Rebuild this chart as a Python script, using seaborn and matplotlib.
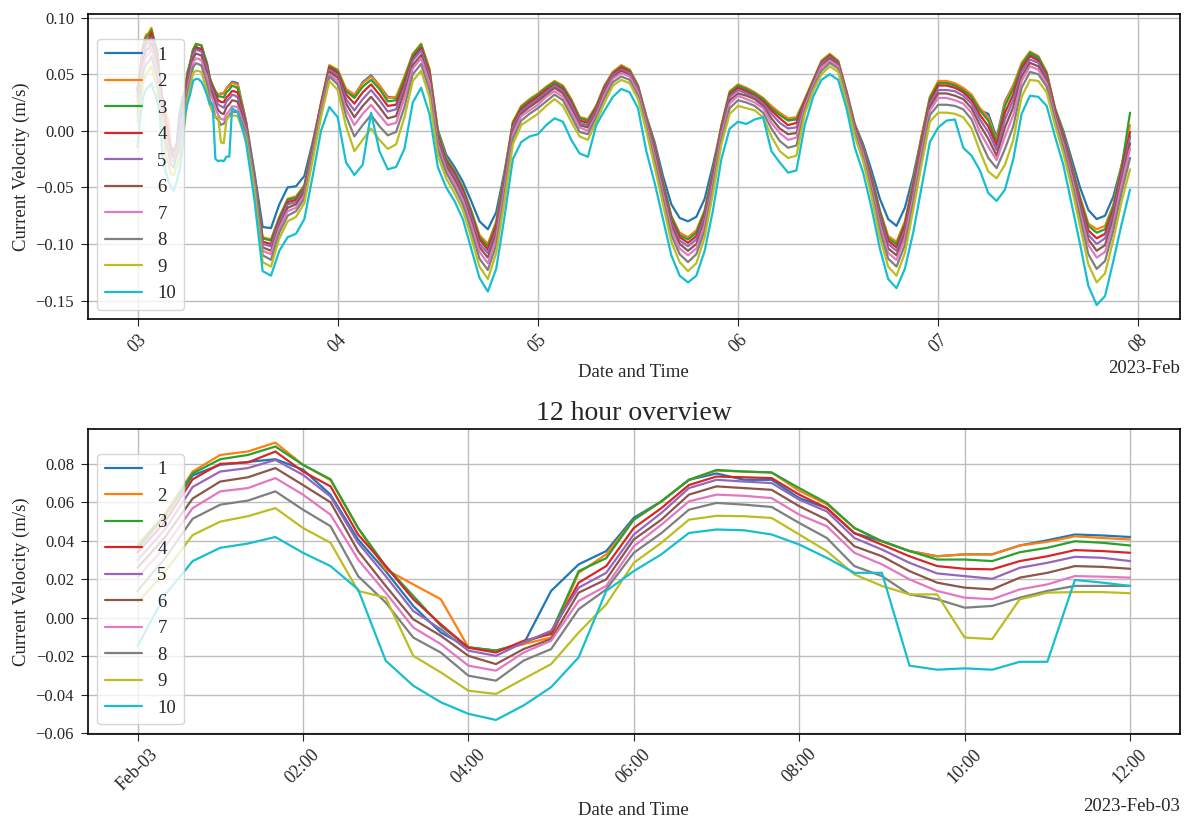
import numpy as np
import pandas as pd
import matplotlib
matplotlib.use("Agg")
import matplotlib.pyplot as plt
import matplotlib.dates as mdates
import seaborn as sns

layers = [str(i) for i in range(1, 11)]

# ---- first 12 hours, 20-minute steps (mm/s) ----
ov_s1 = [36, 53, 74, 79.5, 81, 82.4, 77, 64, 40.7, 24.3, 6.2, -7.6, -15.3, -17, -13.6, 14, 27.8, 34.7, 52, 60.5, 71.7, 75, 71.7, 71.7, 62.2, 57, 44, 39.8, 34.7, 32, 33, 33, 37.6, 40.3, 43.3, 42.8, 42]
ov_s2 = [38, 54, 76, 84.6, 86.4, 91, 79.5, 71.5, 46.7, 25.2, 17.4, 9.7, -15.3, -17, -13.6, -10.2, 23.4, 33, 51, 60.5, 71.7, 76.5, 76, 75.5, 66, 59, 46.7, 39.8, 34.7, 32, 33, 33, 37.6, 39.5, 42.4, 41.5, 40.7]
ov_s3 = [37, 53, 75, 82.4, 84.6, 89, 79.5, 72, 46.7, 26.9, 11.4, -4.1, -15.3, -17, -12.8, -7.6, 24.3, 31, 51, 60.5, 71.7, 76.8, 76, 75.5, 67.4, 59.7, 46.7, 39.8, 34.7, 30.3, 30.3, 29.5, 34.1, 36.4, 39.8, 39, 37.6]
ov_s4 = [34, 50, 72, 80, 80.7, 86.4, 76, 68.3, 43.3, 26.9, 9.7, -3.3, -15.5, -18, -11.9, -8.4, 18.3, 26.9, 46.7, 57, 69, 73.4, 73, 72.6, 64, 57, 44, 38, 32, 26.9, 25.5, 25.2, 29.5, 32, 35.2, 34.7, 33.8]
ov_s5 = [30, 46, 68, 76, 77.8, 82, 74.3, 63, 39, 21.7, 3.6, -5.9, -17, -19.7, -12.8, -6.7, 15.7, 23.4, 43.3, 54.5, 67.4, 71.7, 70.8, 70, 61.4, 55.3, 41.5, 35.5, 28.6, 23.1, 21.7, 20.3, 26, 28.6, 31.7, 31.2, 29.5]
ov_s6 = [26, 42, 62, 70.8, 73, 77.8, 69, 60, 34.7, 16.6, -0.7, -9.3, -19.7, -24, -16.2, -11, 13.1, 20, 40.7, 51, 64, 68.3, 67.4, 66.5, 58, 51, 37.2, 32, 24.3, 18.3, 15.7, 14.8, 20.9, 23.4, 26.9, 26.5, 25.5]
ov_s7 = [21, 37, 57, 65.7, 67.4, 72.6, 64, 53.6, 30.3, 13.1, -5, -13.6, -24.8, -27.4, -18, -11.9, 8.8, 16.6, 37.2, 48.4, 60.5, 64, 63.4, 62.2, 53.6, 47.6, 33.8, 27.8, 20, 14, 10.5, 9.7, 14.8, 17.4, 21.7, 21.4, 20.9]
ov_s8 = [14, 31, 51.5, 58.8, 60.9, 65.7, 56.2, 47.6, 21.7, 8, -10.2, -18, -30, -32.6, -22.2, -16.2, 4.5, 14.8, 33.8, 44, 56.2, 59.7, 58.8, 57.6, 49.3, 41.5, 26.9, 21.7, 12.2, 9.7, 5.3, 6.2, 10.5, 14, 16.6, 16.6, 16.6]
ov_s9 = [8, 24, 43, 50, 52.8, 57, 46.7, 39, 14, 10.5, -19.7, -28.3, -37.8, -39.5, -31.7, -24, -7.6, 7, 28.6, 39, 51, 53, 52.8, 51.9, 43.3, 34.7, 22.6, 16.6, 12.2, 12.2, -10.2, -11, 9.7, 13.1, 13.4, 13.4, 12.8]
ov_s10 = [-14.6, 12, 29.5, 36.4, 38.6, 42, 33.8, 26.9, 14.8, -22.2, -35.2, -43.8, -49.8, -53, -45.5, -36, -20.5, 14, 24.3, 33, 44.1, 45.9, 45.5, 43.3, 38.1, 31.2, 23.4, 23.4, -24.8, -26.9, -26.2, -26.9, -22.8, -22.8, 19.7, 18.3, 16.6]

# ---- remaining record, hourly from Feb-03 13:00 to Feb-07 23:00 (mm/s) ----
hr_s1 = [9, -36, -85, -86, -65, -50, -49, -40, -10, 23,
         56, 52, 36, 31, 43, 49, 40, 30, 29, 46,
         66, 74, 53, 1, -21, -32, -45, -62, -80, -87,
         -72, -36, 6, 21, 27, 32, 38, 43, 39, 27,
         12, 10, 22, 40, 52, 57, 54, 40, 13, -10,
         -40, -65, -77, -80, -76, -60, -30, 3, 33, 40,
         37, 33, 28, 21, 15, 10, 11, 27, 44, 61,
         67, 61, 35, 6, -12, -35, -60, -78, -84, -68,
         -40, -5, 28, 42, 43, 41, 36, 30, 18, 15,
         -6, 26, 40, 58, 68, 64, 50, 20, 0, -25,
         -50, -70, -78, -75, -58, -30, -5]
hr_s2 = [8, -40, -94, -96, -76, -60, -58, -48, -12, 25,
         58, 54, 37, 32, 42, 48, 40, 29, 30, 48,
         68, 77, 55, 0, -24, -35, -50, -70, -92, -100,
         -80, -38, 8, 22, 28, 33, 39, 44, 40, 28,
         12, 10, 22, 40, 52, 58, 54, 40, 12, -12,
         -45, -75, -90, -94, -88, -70, -35, 5, 35, 41,
         38, 34, 29, 22, 16, 11, 12, 28, 45, 62,
         68, 62, 35, 5, -15, -40, -70, -93, -98, -80,
         -45, -5, 30, 44, 44, 42, 38, 32, 20, 12,
         -8, 25, 40, 60, 70, 66, 52, 20, -2, -30,
         -58, -82, -87, -84, -65, -30, 5]
hr_s3 = [7, -41, -95, -97, -77, -61, -59, -49, -13, 24,
         57, 53, 35, 29, 39, 45, 37, 26, 27, 46,
         67, 76, 53, -1, -25, -36, -51, -71, -94, -102,
         -82, -39, 7, 21, 27, 32, 38, 43, 39, 27,
         11, 9, 21, 39, 51, 57, 53, 39, 11, -13,
         -46, -76, -92, -96, -90, -71, -36, 4, 34, 40,
         37, 33, 28, 20, 14, 9, 10, 27, 44, 61,
         67, 61, 34, 4, -16, -41, -71, -95, -100, -82,
         -47, -7, 29, 42, 42, 40, 36, 30, 18, 9,
         -10, 22, 37, 58, 69, 65, 51, 19, -3, -31,
         -60, -84, -90, -87, -67, -32, 16]
hr_s4 = [6, -42, -98, -100, -79, -63, -61, -51, -14, 23,
         56, 51, 32, 24, 34, 41, 32, 22, 23, 42,
         64, 73, 51, -4, -27, -38, -53, -74, -96, -105,
         -84, -42, 5, 19, 25, 30, 36, 41, 37, 25,
         9, 7, 20, 38, 50, 56, 52, 38, 10, -15,
         -48, -79, -94, -99, -93, -74, -38, 2, 32, 38,
         35, 31, 26, 18, 11, 5, 7, 26, 43, 60,
         66, 60, 33, 3, -17, -43, -74, -97, -103, -84,
         -49, -9, 26, 40, 40, 38, 34, 27, 14, 4,
         -13, 16, 32, 55, 66, 62, 49, 18, -5, -33,
         -62, -88, -95, -91, -70, -35, -1]
hr_s5 = [4, -43, -100, -102, -81, -65, -63, -52, -16, 21,
         54, 49, 28, 18, 28, 36, 27, 17, 19, 38,
         62, 71, 48, -6, -29, -40, -55, -76, -100, -108,
         -88, -44, 3, 17, 23, 28, 34, 40, 35, 23,
         7, 5, 18, 36, 49, 54, 51, 37, 9, -17,
         -50, -81, -97, -102, -96, -76, -40, 0, 30, 36,
         33, 30, 24, 15, 7, 2, 3, 24, 42, 59,
         65, 59, 32, 2, -18, -45, -76, -100, -106, -88,
         -52, -12, 24, 36, 36, 35, 31, 24, 10, -1,
         -17, 10, 27, 52, 63, 60, 47, 16, -7, -35,
         -65, -92, -100, -95, -73, -39, -6]
hr_s6 = [2, -45, -103, -106, -84, -68, -65, -54, -18, 20,
         52, 47, 24, 12, 22, 30, 21, 11, 13, 34,
         58, 67, 45, -9, -31, -43, -58, -80, -103, -112,
         -91, -48, 0, 15, 21, 26, 32, 38, 33, 20,
         5, 3, 16, 34, 47, 53, 49, 35, 7, -20,
         -53, -84, -100, -106, -100, -80, -43, -2, 27, 33,
         31, 28, 22, 11, 2, -3, -2, 23, 41, 57,
         64, 58, 31, 1, -20, -47, -80, -104, -110, -91,
         -55, -15, 21, 33, 33, 31, 28, 20, 5, -7,
         -22, 3, 21, 48, 60, 57, 45, 14, -9, -38,
         -68, -96, -106, -101, -77, -43, -11]
hr_s7 = [0, -46, -106, -109, -86, -71, -68, -57, -20, 18,
         50, 44, 19, 5, 15, 23, 14, 5, 7, 29,
         55, 64, 42, -12, -34, -46, -61, -83, -107, -117,
         -95, -51, -3, 13, 18, 23, 30, 35, 30, 17,
         3, 0, 14, 32, 46, 51, 48, 34, 6, -23,
         -56, -87, -104, -110, -104, -83, -46, -4, 24, 31,
         28, 25, 20, 7, -2, -8, -6, 21, 40, 56,
         62, 57, 30, 0, -21, -50, -83, -108, -114, -95,
         -59, -19, 18, 29, 29, 27, 24, 16, -1, -14,
         -26, -5, 14, 44, 57, 54, 42, 12, -12, -41,
         -72, -101, -112, -107, -82, -47, -16]
hr_s8 = [-2, -49, -110, -114, -90, -75, -71, -60, -22, 15,
         48, 41, 13, -5, 5, 14, 4, -4, -1, 21,
         50, 59, 36, -16, -37, -50, -65, -88, -113, -123,
         -101, -56, -7, 9, 15, 20, 26, 32, 27, 13,
         -1, -3, 12, 29, 43, 48, 45, 31, 3, -27,
         -60, -92, -109, -116, -109, -88, -50, -8, 20, 27,
         25, 22, 16, 2, -9, -15, -13, 18, 38, 53,
         60, 55, 28, -2, -24, -53, -88, -113, -120, -101,
         -64, -24, 14, 23, 23, 22, 19, 10, -8, -24,
         -33, -16, 4, 38, 52, 50, 39, 9, -15, -45,
         -77, -109, -122, -115, -88, -54, -24]
hr_s9 = [-6, -52, -116, -120, -95, -80, -76, -64, -26, 12,
         44, 36, 4, -18, -8, 2, -8, -16, -12, 12,
         44, 53, 30, -22, -42, -55, -70, -94, -120, -131,
         -108, -62, -12, 5, 10, 15, 22, 28, 22, 8,
         -5, -8, 8, 25, 40, 45, 42, 28, 0, -32,
         -65, -98, -116, -124, -117, -94, -55, -12, 15, 22,
         20, 18, 12, -5, -18, -24, -22, 15, 35, 50,
         57, 52, 25, -5, -27, -58, -94, -120, -128, -108,
         -70, -30, 8, 16, 16, 15, 12, 2, -18, -36,
         -42, -30, -8, 30, 45, 44, 34, 5, -20, -50,
         -84, -118, -134, -126, -96, -62, -34]
hr_s10 = [-10, -60, -124, -128, -106, -94, -91, -78, -40, 0,
          21, 12, -28, -39, -30, 16, -18, -34, -32, -16,
          25, 38, 15, -32, -50, -62, -78, -104, -130, -142,
          -122, -76, -25, -10, -5, -3, 5, 11, 8, -8,
          -20, -23, 5, 18, 30, 37, 34, 20, -18, -46,
          -78, -110, -128, -134, -128, -106, -70, -25, 2, 8,
          6, 10, 12, -18, -28, -37, -35, 5, 30, 45,
          50, 45, 20, -15, -37, -68, -104, -131, -139, -122,
          -90, -50, -10, 3, 9, 10, -15, -22, -35, -55,
          -62, -52, -25, 15, 31, 30, 22, -5, -30, -65,
          -100, -137, -154, -146, -115, -82, -52]

ov_series = [ov_s1, ov_s2, ov_s3, ov_s4, ov_s5, ov_s6, ov_s7, ov_s8, ov_s9, ov_s10]
hr_series = [hr_s1, hr_s2, hr_s3, hr_s4, hr_s5, hr_s6, hr_s7, hr_s8, hr_s9, hr_s10]

t_ov = pd.date_range("2023-02-03 00:00", periods=len(ov_s1), freq="20min")
t_hr = pd.date_range("2023-02-03 13:00", periods=len(hr_s1), freq="h")

ov_frames, full_frames = [], []
for name, ov, hr in zip(layers, ov_series, hr_series):
    ov_df = pd.DataFrame({"time": t_ov, "vel": np.array(ov) / 1000.0, "layer": name})
    hr_df = pd.DataFrame({"time": t_hr, "vel": np.array(hr) / 1000.0, "layer": name})
    ov_frames.append(ov_df)
    full_frames.append(pd.concat([ov_df, hr_df]))
df_ov = pd.concat(ov_frames, ignore_index=True)
df_full = pd.concat(full_frames, ignore_index=True)

sns.set_style("ticks")
plt.rcParams["font.family"] = ["Liberation Serif", "DejaVu Serif"]
plt.rcParams["axes.unicode_minus"] = True

fig, (ax1, ax2) = plt.subplots(2, 1, figsize=(11.88, 8.19), dpi=100)
fig.subplots_adjust(left=0.074, right=0.993, top=0.983, bottom=0.104, hspace=0.36)

pal = sns.color_palette("tab10", 10)

for ax, data in ((ax1, df_full), (ax2, df_ov)):
    sns.lineplot(data=data, x="time", y="vel", hue="layer", hue_order=layers,
                 palette=pal, estimator=None, linewidth=1.6, ax=ax)
    loc = mdates.AutoDateLocator()
    ax.xaxis.set_major_locator(loc)
    ax.xaxis.set_major_formatter(mdates.ConciseDateFormatter(loc))
    ax.tick_params(axis="x", labelrotation=45, labelsize=13, length=5)
    ax.tick_params(axis="y", labelsize=12, length=5, pad=5)
    ax.grid(True, color="#bdbdbd", linewidth=1.0)
    ax.set_xlabel("Date and Time", fontsize=13.5, labelpad=6)
    ax.set_ylabel("Current Velocity (m/s)", fontsize=13.5)
    ax.xaxis.get_offset_text().set_fontsize(13.5)
    for sp in ax.spines.values():
        sp.set_color("black")
        sp.set_linewidth(1.2)
    h, l = ax.get_legend_handles_labels()
    ax.legend(h, l, loc="lower left", fontsize=13.5, framealpha=0.8)

ax2.set_title("12 hour overview", fontsize=20)

fig.savefig("out.png", dpi=100)
